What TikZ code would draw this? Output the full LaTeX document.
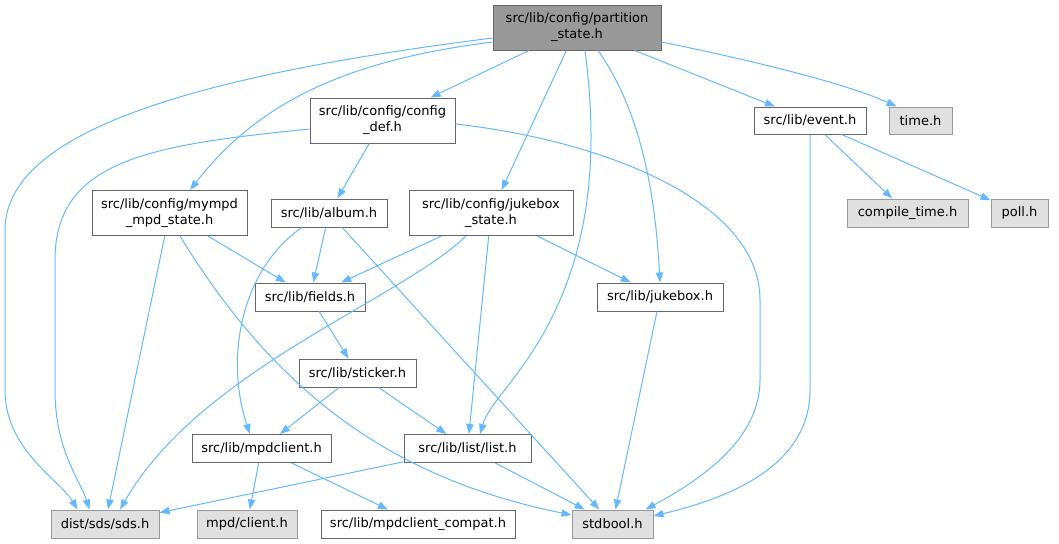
\documentclass[tikz,border=0pt]{standalone}
\usepackage{fontspec}
\setmainfont{DejaVu Sans}
\usetikzlibrary{arrows.meta,calc}
\definecolor{edgeblue}{HTML}{63B8FF}
\definecolor{nodeborder}{HTML}{666666}
\definecolor{sysborder}{HTML}{999999}
\definecolor{sysfill}{HTML}{E0E0E0}
\definecolor{rootfill}{HTML}{999999}
\begin{document}
\begin{tikzpicture}[x=0.75pt, y=-0.75pt,
  file/.style={rectangle, draw=nodeborder, fill=white, line width=0.75pt, inner sep=0pt,
    align=center, font=\fontsize{9.75}{12}\selectfont, minimum height=21pt},
  two/.style={minimum height=33.75pt},
  sys/.style={file, draw=sysborder, fill=sysfill},
  root/.style={file, fill=rootfill},
  dep/.style={draw=edgeblue, line width=0.75pt, -{Triangle[length=7.5pt,width=5.5pt]}}]
  \useasboundingbox (0,0) rectangle (1059,543);

  % Nodes
  \node[root, two, minimum width=126pt] (part) at (577,27.5) {src/lib/config/partition\\\_state.h};
  \node[file, two, minimum width=108.75pt] (configdef) at (382.5,120.5) {src/lib/config/config\\\_def.h};
  \node[file, minimum width=84pt, minimum height=20.25pt] (event) at (810,120.5) {src/lib/event.h};
  \node[sys, minimum width=47.25pt, minimum height=20.25pt] (time) at (920.5,120.5) {time.h};
  \node[file, two, minimum width=116.25pt] (mympd) at (169.5,213) {src/lib/config/mympd\\\_mpd\_state.h};
  \node[file, minimum width=87pt] (album) at (329,213) {src/lib/album.h};
  \node[file, two, minimum width=123pt] (jbstate) at (491,213) {src/lib/config/jukebox\\\_state.h};
  \node[sys, minimum width=90.75pt] (ctime) at (907.5,213) {compile\_time.h};
  \node[sys, minimum width=42.75pt] (poll) at (1019.5,213) {poll.h};
  \node[file, minimum width=82.5pt] (fields) at (310,297) {src/lib/fields.h};
  \node[file, minimum width=94.5pt] (jukebox) at (660,297) {src/lib/jukebox.h};
  \node[file, minimum width=87.75pt] (sticker) at (357.5,373) {src/lib/sticker.h};
  \node[file, minimum width=104.25pt] (mpdclient) at (261.5,448.5) {src/lib/mpdclient.h};
  \node[file, minimum width=95.25pt] (list) at (467.5,448.5) {src/lib/list/list.h};
  \node[sys, minimum width=81pt] (sds) at (105,524) {dist/sds/sds.h};
  \node[sys, minimum width=75pt] (mpdcli) at (247,524) {mpd/client.h};
  \node[file, minimum width=145.5pt] (compat) at (418,524) {src/lib/mpdclient\_compat.h};
  \node[sys, minimum width=60.75pt] (stdbool) at (612.5,524) {stdbool.h};

  % Edges
  \draw[dep] ($(part.west)+(0,10.5)$) .. controls (200,75) and (5,130) .. (5,230) -- (5,390)
    .. controls (5,450) and (60,480) .. ($(sds.north west)+(27,0)$);
  \draw[dep] ($(part.west)+(0,14.5)$) .. controls (350,60) and (260,100) .. ($(mympd.north)+(20.5,0)$);
  \draw[dep] (part) -- (configdef);
  \draw[dep] (part) -- (jbstate);
  \draw[dep] ($(part.south)+(8,0)$) .. controls (598,150) and (590,230) .. (560,300)
    .. controls (530,370) and (490,400) .. ($(list.north)+(12.5,0)$);
  \draw[dep] ($(part.south)+(21,0)$) .. controls (640,110) and (655,190) .. (jukebox.north);
  \draw[dep] (part) -- (event);
  \draw[dep] ($(part.east)+(0,14.5)$) .. controls (760,62) and (850,85) .. ($(time.north west)+(8,0)$);

  \draw[dep] ($(configdef.west)+(0,8.5)$) .. controls (150,145) and (55,160) .. (55,260) -- (55,390)
    .. controls (55,450) and (80,480) .. ($(sds.north west)+(39,0)$);
  \draw[dep] (configdef) -- (album);
  \draw[dep] ($(configdef.east)+(0,3.5)$) .. controls (600,140) and (760,200) .. (760,300) -- (760,380)
    .. controls (760,440) and (700,480) .. ($(stdbool.north east)+(-8,0)$);

  \draw[dep] (event.south) -- (810,390) .. controls (810,470) and (720,500) .. ($(stdbool.east)+(0,-8)$);
  \draw[dep] (event) -- (ctime);
  \draw[dep] (event) -- (poll);

  \draw[dep] (mympd) -- (sds);
  \draw[dep] (mympd) -- (fields);
  \draw[dep] ($(mympd.south)+(10.5,0)$) .. controls (280,400) and (400,480) .. ($(stdbool.west)+(0,-9)$);

  \draw[dep] ($(album.south)+(-27,0)$) .. controls (240,270) and (225,360) .. ($(mpdclient.north)+(-11.5,0)$);
  \draw[dep] (album) -- (fields);
  \draw[dep] (album) -- (stdbool);

  \draw[dep] (jbstate) -- (fields);
  \draw[dep] ($(jbstate.south)+(-25,0)$) .. controls (400,300) and (200,370) .. ($(sds.north)+(15,0)$);
  \draw[dep] (jbstate) -- (list);
  \draw[dep] (jbstate) -- (jukebox);

  \draw[dep] (fields) -- (sticker);
  \draw[dep] (sticker) -- (mpdclient);
  \draw[dep] (sticker) -- (list);
  \draw[dep] (mpdclient) -- (mpdcli);
  \draw[dep] (mpdclient) -- (compat);
  \draw[dep] (list) -- (sds);
  \draw[dep] (list) -- (stdbool);
  \draw[dep] (jukebox) -- (stdbool);
\end{tikzpicture}
\end{document}
